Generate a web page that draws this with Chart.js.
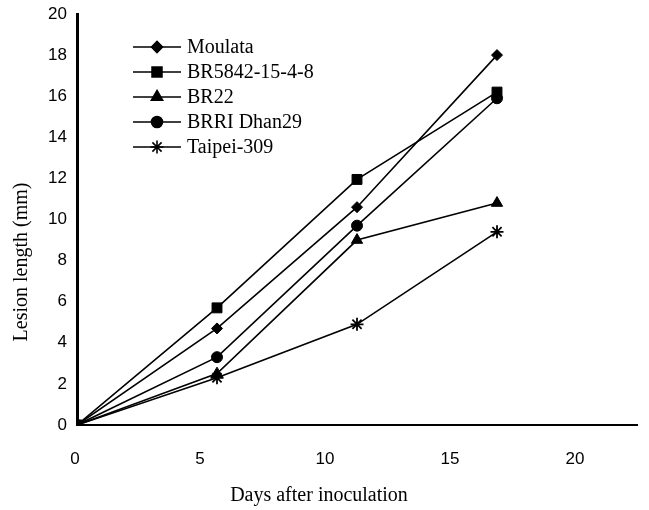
<!DOCTYPE html>
<html>
<head>
<meta charset="utf-8">
<script src="https://cdn.jsdelivr.net/npm/chart.js@4/dist/chart.umd.min.js"></script>
<style>
  html, body { margin: 0; padding: 0; background: #fff; }
  #wrap { width: 649px; height: 510px; }
</style>
</head>
<body>
<div id="wrap"><canvas id="c" width="649" height="510"></canvas></div>
<script>
// ---- data ----
const days = [0, 5, 10, 15];
const seriesNames = ["Moulata", "BR5842-15-4-8", "BR22", "BRRI Dhan29", "Taipei-309"];
const moulata = [0, 4.7, 10.6, 18.0];
const br5842 = [0, 5.7, 11.95, 16.2];
const br22 = [0, 2.5, 9.0, 10.8];
const brriDhan29 = [0, 3.3, 9.7, 15.9];
const taipei309 = [0, 2.3, 4.9, 9.4];
const xTickLabels = [0, 5, 10, 15, 20];
const yTickLabels = [0, 2, 4, 6, 8, 10, 12, 14, 16, 18, 20];
const xTitle = "Days after inoculation";
const yTitle = "Lesion length (mm)";

const seriesValues = [moulata, br5842, br22, brriDhan29, taipei309];
const pointStyles = ["rectRot", "rect", "triangle", "circle", "star"];
const pointRadii = [5.5, 7, 6.5, 5.5, 6.5];

const datasets = seriesNames.map((name, i) => ({
  label: name,
  data: days.map((d, j) => ({ x: d, y: seriesValues[i][j] })),
  borderColor: "#000",
  backgroundColor: "#000",
  borderWidth: 1.6,
  pointStyle: pointStyles[i],
  pointRadius: pointRadii[i],
  pointBorderWidth: pointStyles[i] === "star" ? 1.8 : 1,
  pointBorderColor: "#000",
  pointBackgroundColor: "#000",
  fill: false,
  tension: 0,
  xAxisID: "x",
  yAxisID: "y"
}));

const serif = '"Liberation Serif", "Times New Roman", serif';
const sans = '"Liberation Sans", Arial, sans-serif';

const decorPlugin = {
  id: "decor",
  afterDraw(chart) {
    const ctx = chart.ctx;
    ctx.save();
    // legend
    const rowY = [47, 72, 97, 122, 147];
    chart.data.datasets.forEach((ds, i) => {
      const y = rowY[i];
      ctx.strokeStyle = "#000";
      ctx.lineWidth = 1.6;
      ctx.beginPath();
      ctx.moveTo(133, y);
      ctx.lineTo(181, y);
      ctx.stroke();
      ctx.fillStyle = "#000";
      Chart.helpers.drawPoint(ctx, {
        pointStyle: ds.pointStyle,
        radius: ds.pointRadius,
        borderWidth: ds.pointBorderWidth,
        rotation: 0
      }, 157, y);
      if (ds.pointStyle !== "star") ctx.fill();
      ctx.font = "20px " + serif;
      ctx.textBaseline = "middle";
      ctx.textAlign = "left";
      ctx.fillText(ds.label, 187, y + 1);
    });
    // axis titles
    ctx.fillStyle = "#000";
    ctx.font = "20px " + serif;
    ctx.textAlign = "center";
    ctx.textBaseline = "middle";
    ctx.fillText(xTitle, 319, 496);
    ctx.translate(22, 262);
    ctx.rotate(-Math.PI / 2);
    ctx.fillText(yTitle, 0, 0);
    ctx.restore();
  }
};

new Chart(document.getElementById("c"), {
  type: "line",
  data: { datasets },
  options: {
    responsive: false,
    animation: false,
    events: [],
    layout: { padding: { left: 0, top: 14, right: 12, bottom: 0 } },
    plugins: { legend: { display: false }, tooltip: { enabled: false } },
    scales: {
      x: {
        type: "linear",
        min: 0, max: 20,
        display: false
      },
      x2: {
        type: "linear",
        position: "bottom",
        min: 0, max: 22.4,
        afterFit(s) { s.height = 85; },
        grid: { display: false },
        border: { display: true, color: "#000", width: 2 },
        ticks: {
          stepSize: 5,
          includeBounds: false,
          autoSkip: false,
          maxRotation: 0,
          padding: 16,
          labelOffset: -2,
          color: "#000",
          font: { family: sans, size: 17 },
          callback: (v) => xTickLabels.includes(v) ? String(v) : ""
        }
      },
      y: {
        type: "linear",
        min: 0, max: 20,
        afterFit(s) { s.width = 77; },
        grid: { display: false },
        border: { display: true, color: "#000", width: 3 },
        ticks: {
          stepSize: 2,
          padding: 2,
          color: "#000",
          font: { family: sans, size: 17 },
          callback: (v) => yTickLabels.includes(v) ? String(v) : ""
        }
      }
    }
  },
  plugins: [decorPlugin]
});
</script>
</body>
</html>
